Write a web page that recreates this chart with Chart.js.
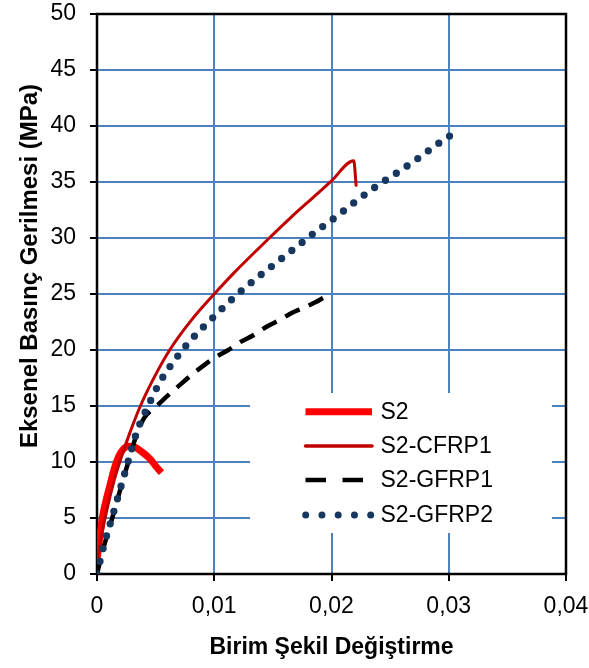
<!DOCTYPE html>
<html>
<head>
<meta charset="utf-8">
<script src="https://cdn.jsdelivr.net/npm/chart.js@4.4.1/dist/chart.umd.min.js"></script>
<style>
html,body{margin:0;padding:0;background:#fff;}
#wrap{width:589px;height:668px;position:relative;}
</style>
</head>
<body>
<div id="wrap"><canvas id="c" width="589" height="668"></canvas></div>
<script>
// ---- data ----
const xTicks = [0, 0.01, 0.02, 0.03, 0.04];
const yTicks = [0, 5, 10, 15, 20, 25, 30, 35, 40, 45, 50];

const seriesNames = ['S2', 'S2-CFRP1', 'S2-GFRP1', 'S2-GFRP2'];

const s2Strain = [0, 0.0002, 0.00045, 0.0008, 0.0011, 0.0015, 0.002, 0.0027, 0.0032, 0.0037, 0.0045, 0.0052, 0.0055];
const s2Stress = [1.2, 3.0, 5.0, 6.7, 7.9, 9.5, 10.8, 11.4, 11.35, 11.0, 10.3, 9.4, 9.05];

const cfrp1Strain = [0, 0.0004, 0.0009, 0.0015, 0.0021, 0.0028, 0.0037, 0.0049, 0.0062, 0.008, 0.01, 0.0116, 0.0145, 0.0165, 0.0183, 0.02, 0.0219, 0.0221];
const cfrp1Stress = [1.0, 3.5, 6.0, 8.5, 10.5, 12.6, 15.0, 17.6, 20.0, 22.6, 25.0, 26.8, 29.8, 31.8, 33.5, 35.1, 36.9, 34.7];

const gfrp1Strain = [0, 0.0006, 0.0013, 0.002, 0.0027, 0.0033, 0.004, 0.005, 0.0061, 0.0072, 0.0082, 0.0092, 0.0101, 0.0112, 0.0122, 0.0133, 0.0145, 0.0156, 0.0166, 0.0177, 0.0187, 0.0194, 0.0199];
const gfrp1Stress = [0, 2.5, 5.0, 7.6, 10.1, 12.2, 13.9, 14.9, 16.0, 17.0, 17.9, 18.7, 19.35, 20.0, 20.7, 21.3, 22.1, 22.7, 23.3, 23.8, 24.3, 24.7, 24.85];

const gfrp2Strain = [0, 0.0006, 0.0013, 0.002, 0.0027, 0.0034, 0.0044, 0.0054, 0.0067, 0.0081, 0.0096, 0.0119, 0.0136, 0.0153, 0.017, 0.0187, 0.0204, 0.0221, 0.0238, 0.0257, 0.0275, 0.0292, 0.0301, 0.0308];
const gfrp2Stress = [0, 2.6, 5.1, 7.65, 10.2, 12.7, 15.1, 17.2, 19.2, 21.0, 22.6, 24.9, 26.4, 27.8, 29.2, 30.6, 31.9, 33.3, 34.6, 35.9, 37.2, 38.5, 39.1, 39.1];

function pts(xs, ys){ return xs.map((x,i)=>({x:x, y:ys[i]})); }

const FONT = '"Liberation Sans", Arial, sans-serif';

const styles = [
  {borderColor:'#ff0000', borderWidth:7, borderDash:[], cap:'butt', order:4, legendDash:[], legendWidth:7},
  {borderColor:'#c00000', borderWidth:3, borderDash:[], cap:'round', order:3, legendDash:[], legendWidth:3.5},
  {borderColor:'#000000', borderWidth:4.5, borderDash:[16,10], cap:'butt', order:2, legendDash:[20.5,16.5], legendWidth:4.5},
  {borderColor:'#17375e', borderWidth:7.3, borderDash:[0,13], cap:'round', order:1, legendDash:[0,16.25], legendWidth:7}
];
const allData = [pts(s2Strain,s2Stress), pts(cfrp1Strain,cfrp1Stress), pts(gfrp1Strain,gfrp1Stress), pts(gfrp2Strain,gfrp2Stress)];

const datasets = seriesNames.map((n,i)=>({
  label:n,
  data:allData[i],
  borderColor:styles[i].borderColor,
  backgroundColor:styles[i].borderColor,
  borderWidth:styles[i].borderWidth,
  borderDash:styles[i].borderDash,
  borderCapStyle:styles[i].cap,
  borderJoinStyle:'round',
  pointRadius:0,
  fill:false,
  cubicInterpolationMode:'monotone',
  order:styles[i].order
}));

const boxPlugin = {
  id:'boxPlugin',
  beforeDatasetsDraw(chart){
    const {ctx, chartArea:a} = chart;
    ctx.save();
    ctx.strokeStyle = '#000';
    ctx.lineWidth = 2.5;
    ctx.strokeRect(a.left, a.top, a.right-a.left, a.bottom-a.top);
    ctx.restore();
  }
};

const legendPlugin = {
  id:'legendPlugin',
  afterDatasetsDraw(chart){
    const ctx = chart.ctx;
    ctx.save();
    ctx.fillStyle = '#fff';
    ctx.fillRect(250, 393, 302, 140);
    const rows = [411.7, 446, 480, 515];
    chart.data.datasets.forEach((ds,i)=>{
      const y = rows[i];
      const st = styles[i];
      ctx.beginPath();
      ctx.strokeStyle = ds.borderColor;
      ctx.lineWidth = st.legendWidth;
      ctx.lineCap = st.cap;
      ctx.setLineDash(st.legendDash);
      let x0 = 305.5, x1 = 372;
      if (i===3){ x0 = 305.7; x1 = 371; }
      ctx.moveTo(x0, y); ctx.lineTo(x1, y);
      ctx.stroke();
      ctx.setLineDash([]);
      ctx.fillStyle = '#000';
      ctx.font = '23px ' + FONT;
      ctx.textAlign = 'left';
      ctx.textBaseline = 'middle';
      ctx.fillText(ds.label, 380.5, y + 1);
    });
    ctx.restore();
  }
};

const yTitlePlugin = {
  id:'yTitlePlugin',
  afterDraw(chart){
    const ctx = chart.ctx;
    ctx.save();
    ctx.translate(30, 266);
    ctx.rotate(-Math.PI/2);
    ctx.font = 'bold 24px ' + FONT;
    ctx.fillStyle = '#000';
    ctx.textAlign = 'center';
    ctx.textBaseline = 'middle';
    ctx.fillText('Eksenel Basınç Gerilmesi (MPa)', 0, 0);
    ctx.restore();
  }
};

new Chart(document.getElementById('c'), {
  type:'line',
  data:{datasets:datasets},
  plugins:[boxPlugin, legendPlugin, yTitlePlugin],
  options:{
    responsive:false,
    animation:false,
    layout:{padding:{top:14, right:23, left:0, bottom:0}},
    plugins:{legend:{display:false}, tooltip:{enabled:false}},
    scales:{
      x:{
        type:'linear',
        min:xTicks[0], max:xTicks[xTicks.length-1],
        afterBuildTicks(s){ s.ticks = xTicks.map(v=>({value:v})); },
        afterFit(s){ s.height = 94; s.paddingLeft = 0; s.paddingRight = 0; },
        ticks:{
          color:'#000', font:{family:FONT, size:23}, padding:12, maxRotation:0,
          callback:(v)=> v===0 ? '0' : Number(v).toFixed(2).replace('.',',')
        },
        grid:{color:'#4f81bd', lineWidth:2, tickLength:7, tickColor:'#000', tickWidth:2},
        border:{display:false},
        title:{display:true, text:'Birim Şekil Değiştirme', color:'#000', font:{family:FONT, size:23, weight:'bold'}, padding:{top:0, bottom:7}}
      },
      y:{
        type:'linear',
        min:yTicks[0], max:yTicks[yTicks.length-1],
        afterBuildTicks(s){ s.ticks = yTicks.map(v=>({value:v})); },
        afterFit(s){ s.width = 97; s.paddingTop = 0; s.paddingBottom = 0; },
        ticks:{color:'#000', font:{family:FONT, size:23}, padding:14},
        grid:{color:'#4f81bd', lineWidth:2, tickLength:7, tickColor:'#000', tickWidth:2},
        border:{display:false}
      }
    }
  }
});
</script>
</body>
</html>
